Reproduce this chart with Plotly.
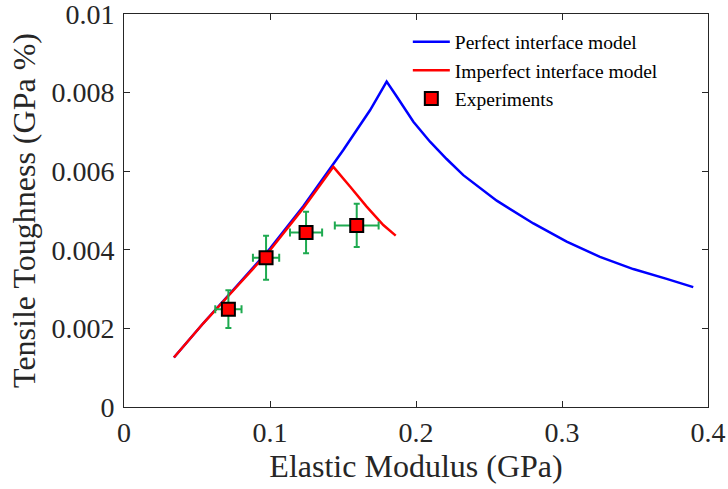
import plotly.graph_objects as go

# Perfect interface model (blue)
perfect_x = [0.0342, 0.0543, 0.0772, 0.1000, 0.1228, 0.1434, 0.1502, 0.1685, 0.1799,
             0.1868, 0.1982, 0.2096, 0.2210, 0.2324, 0.2438, 0.2553, 0.2804, 0.3032,
             0.3260, 0.3488, 0.3717, 0.3899]
perfect_y = [0.00126, 0.00213, 0.00308, 0.00403, 0.00511, 0.00618, 0.00654, 0.00755, 0.00828,
             0.00790, 0.00726, 0.00675, 0.00631, 0.00590, 0.00557, 0.00525, 0.00467, 0.00421,
             0.00382, 0.00351, 0.00326, 0.00305]

# Imperfect interface model (red)
imperfect_x = [0.0342, 0.0543, 0.0772, 0.1000, 0.1228, 0.1434, 0.1548, 0.1662, 0.1776, 0.1861]
imperfect_y = [0.00126, 0.00213, 0.00306, 0.00399, 0.00506, 0.00611, 0.00561, 0.00510, 0.00463, 0.00436]

# Experiments
exp_x = [0.0715, 0.0973, 0.1247, 0.1594]
exp_y = [0.00249, 0.00380, 0.00444, 0.00462]
exp_xerr = [0.009, 0.009, 0.011, 0.015]
exp_yerr = [0.00048, 0.00056, 0.00053, 0.00055]

x_ticks = [0, 0.1, 0.2, 0.3, 0.4]
x_tick_labels = ["0", "0.1", "0.2", "0.3", "0.4"]
y_ticks = [0, 0.002, 0.004, 0.006, 0.008, 0.01]
y_tick_labels = ["0", "0.002", "0.004", "0.006", "0.008", "0.01"]

FONT = "Liberation Serif, Times New Roman, serif"
GREEN = "rgb(30,170,80)"
AXC = "#262626"

fig = go.Figure()
fig.add_trace(go.Scatter(x=perfect_x, y=perfect_y, mode="lines", name="Perfect interface model",
                         line=dict(color="rgb(0,0,255)", width=2.5)))
fig.add_trace(go.Scatter(x=imperfect_x, y=imperfect_y, mode="lines", name="Imperfect interface model",
                         line=dict(color="rgb(255,0,0)", width=2.5)))
fig.add_trace(go.Scatter(x=exp_x, y=exp_y, mode="markers", name="Experiments",
                         marker=dict(symbol="square", size=13, color="rgb(255,0,0)",
                                     line=dict(color="black", width=2)),
                         error_x=dict(type="data", array=exp_xerr, color=GREEN, thickness=2, width=4),
                         error_y=dict(type="data", array=exp_yerr, color=GREEN, thickness=2, width=3)))

axis_common = dict(showline=True, linecolor=AXC, linewidth=1, mirror="ticks",
                   ticks="inside", ticklen=6, tickcolor=AXC, tickwidth=1,
                   showgrid=False, zeroline=False, ticklabeloverflow="allow",
                   automargin=False,
                   tickfont=dict(family=FONT, size=28, color=AXC))

fig.update_xaxes(range=[0, 0.4], tickvals=x_ticks, ticktext=x_tick_labels,
                 title=dict(text="Elastic Modulus (GPa)", font=dict(family=FONT, size=32, color=AXC), standoff=6),
                 **axis_common)
fig.update_yaxes(range=[0, 0.01], tickvals=y_ticks, ticktext=y_tick_labels, ticklabelstandoff=3,
                 title=dict(text="Tensile Toughness (GPa %)", font=dict(family=FONT, size=32, color=AXC), standoff=6),
                 **axis_common)

fig.update_layout(width=728, height=489, margin=dict(l=124, r=20, t=14, b=82),
                  paper_bgcolor="white", plot_bgcolor="white",
                  showlegend=True,
                  legend=dict(x=0.486, y=0.978, xanchor="left", yanchor="top",
                              bgcolor="rgba(0,0,0,0)", borderwidth=0,
                              font=dict(family=FONT, size=19.5, color="black"),
                              tracegroupgap=0, itemwidth=37))

fig.write_html("out.html")
